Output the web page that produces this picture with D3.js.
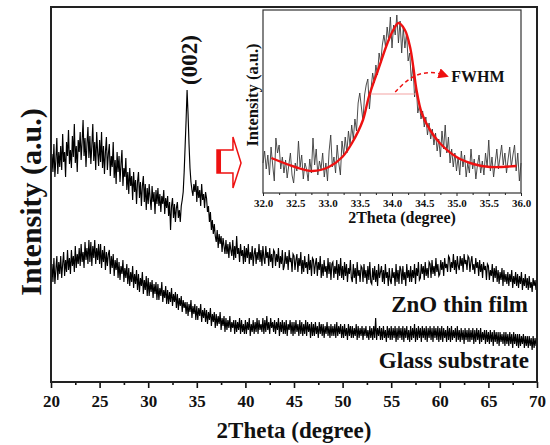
<!DOCTYPE html>
<html>
<head>
<meta charset="utf-8">
<script src="https://cdn.jsdelivr.net/npm/d3@7"></script>
<style>
  body { margin: 0; background: #fff; }
  svg { display: block; }
  text { font-family: "Liberation Serif", "Times New Roman", Tinos, Times, serif; font-weight: bold; fill: #111; }
</style>
</head>
<body>
<svg id="chart" width="550" height="445"></svg>
<script>
const mainStart = 20, mainStep = 0.1

const zno = [
  200,228,210,238,205,222,244,208,230,215, 236,212,248,220,230,205,240,226,252,218,
  232,214,246,225,258,219,236,210,242,230, 250,222,240,262,226,244,215,238,255,224,
  246,218,236,258,221,240,212,250,230,216, 242,220,250,214,236,208,230,245,212,228,
  238,206,226,215,240,204,222,198,230,210, 226,200,218,232,196,214,205,224,192,210,
  188,214,196,206,182,210,190,202,178,200, 210,184,200,176,196,206,180,198,172,194,
  178,198,184,172,196,180,190,168,192,178, 194,176,188,170,186,178,192,168,184,174,
  186,166,180,152,176,184,164,178,160,174, 180,164,172,160,176,182,190,210,236,262,
  292,268,238,214,200,192,186,198,190,202, 180,196,184,192,176,198,182,188,174,190,
  184,170,176,160,170,152,162,148,158,146, 140,152,134,148,138,146,130,144,136,128,
  142,128,138,124,140,132,126,142,122,136, 124,146,128,134,120,138,126,132,118,136,
  120,134,124,138,118,130,122,136,116,128, 134,118,130,122,138,120,132,116,136,124,
  118,136,124,130,116,134,120,128,114,132, 130,116,128,120,134,114,126,118,132,112,
  116,130,118,126,112,132,120,124,110,128, 126,112,122,128,110,124,116,130,108,122,
  110,126,114,120,108,128,112,122,106,124, 122,108,118,124,106,120,112,126,104,118,
  106,122,110,116,104,124,108,120,102,118, 120,104,116,108,122,102,118,106,124,104,
  116,102,120,106,118,100,114,108,122,104, 100,118,104,114,98,120,106,112,100,116,
  114,100,118,104,112,98,116,102,120,100, 98,114,102,116,100,112,96,118,104,110,
  116,100,112,98,118,104,110,96,114,102, 98,114,104,110,96,118,100,112,98,116,
  112,98,116,102,110,96,118,104,112,100, 116,100,112,104,118,98,114,106,120,102,
  104,118,108,116,102,120,106,114,104,120, 118,104,122,108,116,106,124,110,118,106,
  108,122,112,120,106,124,114,118,110,126, 124,110,120,114,128,112,122,108,126,116,
  112,126,116,124,110,128,118,122,112,126, 124,110,120,126,112,118,108,124,114,120,
  106,122,110,118,104,120,112,116,102,118, 116,102,112,106,118,100,114,104,116,100,
  112,98,110,102,114,96,112,100,108,98, 110,96,108,100,112,94,106,98,110,96,
  108,94,106,98,110,92,104,96,108,94, 104,92,106,94,100,90,104,96,102,92,
  98
]

const glass = [
  94,118,100,124,98,112,126,102,120,108, 126,104,118,130,106,122,110,132,112,124,
  108,132,116,126,110,136,114,128,118,134, 116,138,120,130,114,140,122,134,118,142,
  120,140,116,136,124,142,118,134,122,138, 118,138,114,132,120,136,112,130,116,128,
  132,108,126,114,128,106,122,112,124,104, 120,102,116,108,122,100,114,104,118,98,
  114,96,110,100,116,94,108,98,112,92, 108,90,104,96,110,88,102,92,106,86,
  104,86,100,90,102,84,98,88,100,82, 98,82,94,86,100,80,92,84,96,78,
  92,78,90,80,94,76,88,80,90,74, 88,72,84,76,86,70,82,74,80,68,
  80,66,78,70,82,64,76,68,78,62, 76,62,74,66,78,60,72,64,74,60,
  72,58,70,62,74,56,68,60,70,54, 68,56,66,58,70,52,64,56,66,50,
  64,52,62,54,66,50,60,54,62,48, 62,50,60,52,64,48,62,50,58,48,
  62,48,60,52,64,46,58,50,62,48, 60,50,64,48,62,52,58,50,64,48,
  62,50,66,52,60,48,64,54,60,50, 62,48,60,52,64,46,60,50,62,48,
  60,48,62,46,58,52,62,48,60,46, 60,48,62,50,58,46,62,48,60,46,
  58,48,62,46,60,50,58,44,60,46, 58,46,60,48,56,44,60,48,58,46,
  58,44,56,48,60,46,56,44,58,46, 56,46,58,44,60,46,56,48,58,44,
  56,44,58,46,54,42,58,46,56,44, 56,44,54,46,58,42,56,44,54,46,
  56,42,54,46,56,44,52,42,56,44, 54,42,56,44,64,42,54,46,56,42,
  54,42,56,44,52,40,56,44,54,42, 56,42,54,44,56,40,54,42,56,44,
  54,42,56,40,54,44,56,42,52,40, 56,42,54,44,58,40,54,42,56,44,
  54,40,56,44,54,42,56,40,54,44, 56,42,54,40,56,44,54,42,56,40,
  54,42,56,40,54,44,52,40,56,42, 54,40,56,42,52,44,54,40,56,42,
  52,40,54,42,52,38,54,42,52,40, 54,40,52,42,54,38,52,40,54,42,
  52,38,54,40,50,42,52,38,52,40, 50,38,52,40,50,36,52,40,50,38,
  50,36,50,40,48,38,50,36,50,38, 48,36,50,38,48,34,50,38,48,36,
  48,34,48,36,46,38,48,34,46,36, 46,34,46,36,44,32,46,34,44,36,
  39
]

const mainTicks = [20, 25, 30, 35, 40, 45, 50, 55, 60, 65, 70]
const mainMinor = [22.5, 27.5, 32.5, 37.5, 42.5, 47.5, 52.5, 57.5, 62.5, 67.5]

// inset: (002) peak, sampled every 0.025 degree from 32 to 36
const insetStart = 32, insetStep = 0.025
const insetRaw = [
  30,42,24,38,18,46,28,12,55,40, 48,24,36,20,33,15,28,40,18,10,
  30,22,52,26,38,14,30,24,12,34, 20,55,28,44,18,32,24,40,16,30,
  12,42,58,26,36,20,48,30,18,52, 38,56,40,62,48,68,54,74,62,90,
  100,86,72,98,108,114,84,104,120,110, 128,118,140,130,148,158,146,166,152,176,
  145,168,158,178,150,172,140,165,145,160, 132,140,112,128,96,108,80,88,74,82,
  66,76,58,70,54,64,48,60,42,54, 36,62,44,68,40,56,30,44,26,40,
  22,36,18,42,26,38,16,30,20,44, 24,34,14,28,38,20,32,18,40,26,
  53,22,36,16,30,44,24,36,48,28, 40,20,34,46,26,38,48,22,40,12,
  30
]
// fitted peak profile (red curve)
const fitX = [32.13, 32.5, 32.77, 33.02, 33.23, 33.38, 33.55, 33.64, 33.8, 33.93, 34.02, 34.1,
              34.2, 34.28, 34.33, 34.38, 34.46, 34.59, 34.74, 35.0, 35.26, 35.52, 35.93]
const fitY = [35, 26, 22, 26, 36, 50, 73, 96, 126, 150, 163, 170,
              163, 146, 126, 103, 80, 63, 50, 36, 29, 26, 27]
const fwhmX = [33.66, 34.39]
const fwhmLevel = 99
const insetTicks = [32, 32.5, 33, 33.5, 34, 34.5, 35, 35.5, 36]
const insetMinor = [32.25, 32.75, 33.25, 33.75, 34.25, 34.75, 35.25, 35.75]

const svg = d3.select("#chart")

const x = d3.scaleLinear().domain([20, 70]).range([51, 537])
const y = d3.scaleLinear().domain([0, 375]).range([382, 7])

const mainLine = d3.line()
  .x((d, i) => x(mainStart + i * mainStep))
  .y(d => y(d))

svg.append("path").datum(glass)
  .attr("d", mainLine).attr("fill", "none")
  .attr("stroke", "#000").attr("stroke-width", 1.15)

svg.append("path").datum(zno)
  .attr("d", mainLine).attr("fill", "none")
  .attr("stroke", "#000").attr("stroke-width", 1.15)

// main axis
const xAxis = svg.append("g").attr("transform", "translate(0,382)")
  .call(d3.axisBottom(x).tickValues(mainTicks).tickSize(6).tickPadding(7).tickFormat(d3.format("d")))
xAxis.select(".domain").remove()
xAxis.selectAll("line").attr("stroke", "#111").attr("stroke-width", 1.6)
xAxis.selectAll("text").style("font-size", "17px").attr("fill", "#111")

const xMinor = svg.append("g").attr("transform", "translate(0,382)")
  .call(d3.axisBottom(x).tickValues(mainMinor).tickSize(3).tickFormat(""))
xMinor.select(".domain").remove()
xMinor.selectAll("line").attr("stroke", "#111").attr("stroke-width", 1.6)

svg.append("rect")
  .attr("x", 51).attr("y", 7).attr("width", 486).attr("height", 375)
  .attr("fill", "none").attr("stroke", "#222").attr("stroke-width", 2)

svg.append("text")
  .attr("x", 294).attr("y", 438).attr("text-anchor", "middle")
  .style("font-size", "23px").text("2Theta (degree)")

svg.append("text")
  .attr("transform", "translate(41,202) rotate(-90)").attr("text-anchor", "middle")
  .style("font-size", "30px").text("Intensity (a.u.)")

svg.append("text")
  .attr("transform", "translate(197,60) rotate(-90)").attr("text-anchor", "middle")
  .style("font-size", "23px").text("(002)")

svg.append("text")
  .attr("x", 528).attr("y", 312).attr("text-anchor", "end")
  .style("font-size", "23px").text("ZnO thin film")

svg.append("text")
  .attr("x", 529).attr("y", 368).attr("text-anchor", "end")
  .style("font-size", "23px").text("Glass substrate")

// hollow red arrow pointing at the inset
const ax0 = x(37.08), ax1 = x(38.72), ax2 = x(39.55)
const ay = [y(245), y(232), y(219), y(209), y(194)]
svg.append("path")
  .attr("d", `M${ax0},${ay[1]}L${ax1},${ay[1]}L${ax1},${ay[0]}L${ax2},${ay[2]}L${ax1},${ay[4]}L${ax1},${ay[3]}L${ax0},${ay[3]}Z`)
  .attr("fill", "#fff").attr("stroke", "#ee1111").attr("stroke-width", 1.5)
svg.append("rect")
  .attr("x", ax0).attr("y", ay[1]).attr("width", 4).attr("height", ay[3] - ay[1])
  .attr("fill", "#ee1111")

// ---- inset ----
const ix = d3.scaleLinear().domain([32, 36]).range([263, 521])
const iy = d3.scaleLinear().domain([0, 183]).range([193, 10])

svg.append("rect")
  .attr("x", 263).attr("y", 10).attr("width", 258).attr("height", 183)
  .attr("fill", "#fff").attr("stroke", "#333").attr("stroke-width", 1.2)

svg.append("path").datum(insetRaw)
  .attr("d", d3.line().x((d, i) => ix(insetStart + i * insetStep)).y(d => iy(d)))
  .attr("fill", "none").attr("stroke", "#3a3a3a").attr("stroke-width", 0.9)

svg.append("line")
  .attr("x1", ix(fwhmX[0])).attr("x2", ix(fwhmX[1]))
  .attr("y1", iy(fwhmLevel)).attr("y2", iy(fwhmLevel))
  .attr("stroke", "#f3a3a3").attr("stroke-width", 1)

svg.append("path").datum(fitX.map((d, i) => [d, fitY[i]]))
  .attr("d", d3.line().x(d => ix(d[0])).y(d => iy(d[1])).curve(d3.curveCatmullRom))
  .attr("fill", "none").attr("stroke", "#ee1111").attr("stroke-width", 2.4)

svg.append("defs").append("marker")
  .attr("id", "head").attr("viewBox", "0 0 10 10").attr("refX", 8).attr("refY", 5)
  .attr("markerWidth", 7).attr("markerHeight", 7).attr("orient", "auto")
  .append("path").attr("d", "M0,0L10,5L0,10Z").attr("fill", "#ee1111")

const arrowPts = [[34.05, 101], [34.23, 113], [34.43, 120], [34.67, 121], [34.85, 117]]
svg.append("path").datum(arrowPts)
  .attr("d", d3.line().x(d => ix(d[0])).y(d => iy(d[1])).curve(d3.curveBasis))
  .attr("fill", "none").attr("stroke", "#ee1111").attr("stroke-width", 1.5)
  .attr("stroke-dasharray", "4,3").attr("marker-end", "url(#head)")

svg.append("text")
  .attr("x", ix(34.92)).attr("y", iy(111))
  .style("font-size", "16px").text("FWHM")

const iAxis = svg.append("g").attr("transform", "translate(0,193)")
  .call(d3.axisBottom(ix).tickValues(insetTicks).tickSize(3).tickPadding(3).tickFormat(d3.format(".1f")))
iAxis.select(".domain").remove()
iAxis.selectAll("line").attr("stroke", "#222")
iAxis.selectAll("text").style("font-size", "11px").attr("fill", "#111")

const iMinor = svg.append("g").attr("transform", "translate(0,193)")
  .call(d3.axisBottom(ix).tickValues(insetMinor).tickSize(2).tickFormat(""))
iMinor.select(".domain").remove()
iMinor.selectAll("line").attr("stroke", "#222")

svg.append("text")
  .attr("x", 402).attr("y", 223).attr("text-anchor", "middle")
  .style("font-size", "16px").text("2Theta (degree)")

svg.append("text")
  .attr("transform", "translate(258,95) rotate(-90)").attr("text-anchor", "middle")
  .style("font-size", "16.5px").text("Intensity (a.u.)")
</script>
</body>
</html>
